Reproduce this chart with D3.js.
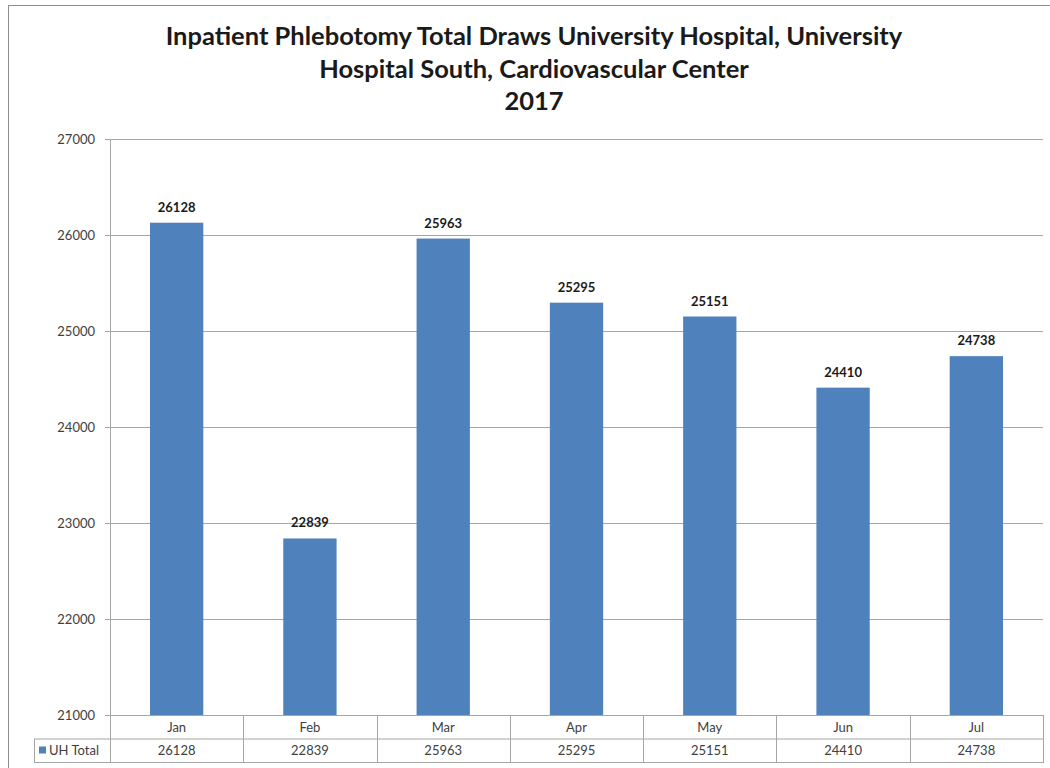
<!DOCTYPE html>
<html>
<head>
<meta charset="utf-8">
<script src="https://cdn.jsdelivr.net/npm/d3@7"></script>
<style>
  body { margin: 0; background: #fff; }
  svg { display: block; font-family: Lato, "Open Sans", sans-serif; }
</style>
</head>
<body>
<script>
const months = ['Jan', 'Feb', 'Mar', 'Apr', 'May', 'Jun', 'Jul'];
const uhTotal = [26128, 22839, 25963, 25295, 25151, 24410, 24738];
const yTicks = [21000, 22000, 23000, 24000, 25000, 26000, 27000];
const seriesName = 'UH Total';
const titleLines = [
  'Inpatient Phlebotomy Total Draws University Hospital, University',
  'Hospital South, Cardiovascular Center',
  '2017'
];

const width = 1050, height = 768;
const plotLeft = 110, plotRight = 1043, plotTop = 139, plotBottom = 715;
const rowH = 23.5;
const legendLeft = 34;
const barColor = '#4f81bd';
const lineColor = '#a6a6a6';

const svg = d3.select('body').append('svg')
  .attr('width', width)
  .attr('height', height);

// chart border
svg.append('rect')
  .attr('x', 8.5).attr('y', 5.5)
  .attr('width', 1060).attr('height', 780)
  .attr('fill', 'none')
  .attr('stroke', '#8c8c8c');

// title
svg.append('g')
  .selectAll('text')
  .data(titleLines)
  .enter()
  .append('text')
  .attr('x', 534)
  .attr('y', (d, i) => 45 + i * 32.5)
  .attr('text-anchor', 'middle')
  .attr('font-size', 25.5)
  .attr('font-weight', 'bold')
  .attr('fill', '#1a1a1a')
  .text(d => d);

const x = d3.scaleBand()
  .domain(months)
  .range([plotLeft, plotRight])
  .paddingInner(0.6)
  .paddingOuter(0.3);

const y = d3.scaleLinear()
  .domain([21000, 27000])
  .range([plotBottom, plotTop]);

// gridlines
svg.append('g')
  .selectAll('line')
  .data(yTicks)
  .enter()
  .append('line')
  .attr('x1', plotLeft - 5)
  .attr('x2', plotRight)
  .attr('y1', d => Math.round(y(d)) + 0.5)
  .attr('y2', d => Math.round(y(d)) + 0.5)
  .attr('stroke', lineColor)
  .attr('stroke-width', 1);

// y axis line
svg.append('line')
  .attr('x1', plotLeft + 0.5).attr('x2', plotLeft + 0.5)
  .attr('y1', plotTop).attr('y2', plotBottom)
  .attr('stroke', lineColor);

// y tick labels
svg.append('g')
  .selectAll('text')
  .data(yTicks)
  .enter()
  .append('text')
  .attr('x', plotLeft - 15)
  .attr('y', d => y(d) + 4.5)
  .attr('text-anchor', 'end')
  .attr('font-size', 13)
  .attr('fill', '#404040')
  .text(d => d);

// bars
svg.append('g')
  .selectAll('rect')
  .data(uhTotal)
  .enter()
  .append('rect')
  .attr('x', (d, i) => x(months[i]))
  .attr('y', d => y(d))
  .attr('width', x.bandwidth())
  .attr('height', d => plotBottom - y(d))
  .attr('fill', barColor);

// data labels
svg.append('g')
  .selectAll('text')
  .data(uhTotal)
  .enter()
  .append('text')
  .attr('x', (d, i) => x(months[i]) + x.bandwidth() / 2)
  .attr('y', d => y(d) - 11)
  .attr('text-anchor', 'middle')
  .attr('font-size', 13)
  .attr('font-weight', 'bold')
  .attr('fill', '#1a1a1a')
  .text(d => d);

// data table
const table = svg.append('g');
const step = x.step();
const colEdges = months.map((m, i) => plotLeft + i * step).concat([plotRight]);

table.append('rect')
  .attr('x', plotLeft + 0.5).attr('y', plotBottom + 0.5)
  .attr('width', plotRight - plotLeft).attr('height', rowH * 2)
  .attr('fill', 'none').attr('stroke', lineColor);

table.append('rect')
  .attr('x', legendLeft + 0.5).attr('y', plotBottom + rowH + 0.5)
  .attr('width', plotLeft - legendLeft).attr('height', rowH)
  .attr('fill', 'none').attr('stroke', lineColor);

table.append('line')
  .attr('x1', plotLeft).attr('x2', plotRight)
  .attr('y1', plotBottom + rowH + 0.5).attr('y2', plotBottom + rowH + 0.5)
  .attr('stroke', lineColor);

table.selectAll('line.col')
  .data(colEdges.slice(1, -1))
  .enter()
  .append('line')
  .attr('class', 'col')
  .attr('x1', d => Math.round(d) + 0.5).attr('x2', d => Math.round(d) + 0.5)
  .attr('y1', plotBottom).attr('y2', plotBottom + rowH * 2)
  .attr('stroke', lineColor);

table.selectAll('text.cat')
  .data(months)
  .enter()
  .append('text')
  .attr('class', 'cat')
  .attr('x', d => x(d) + x.bandwidth() / 2)
  .attr('y', plotBottom + 16.5)
  .attr('text-anchor', 'middle')
  .attr('font-size', 13)
  .attr('fill', '#404040')
  .text(d => d);

table.selectAll('text.val')
  .data(uhTotal)
  .enter()
  .append('text')
  .attr('class', 'val')
  .attr('x', (d, i) => x(months[i]) + x.bandwidth() / 2)
  .attr('y', plotBottom + rowH + 16.5)
  .attr('text-anchor', 'middle')
  .attr('font-size', 13)
  .attr('fill', '#404040')
  .text(d => d);

// legend key
table.append('rect')
  .attr('x', legendLeft + 5).attr('y', plotBottom + rowH + 8)
  .attr('width', 7).attr('height', 7)
  .attr('fill', barColor);

table.append('text')
  .attr('x', legendLeft + 15)
  .attr('y', plotBottom + rowH + 16.5)
  .attr('font-size', 13)
  .attr('fill', '#404040')
  .text(seriesName);
</script>
</body>
</html>
